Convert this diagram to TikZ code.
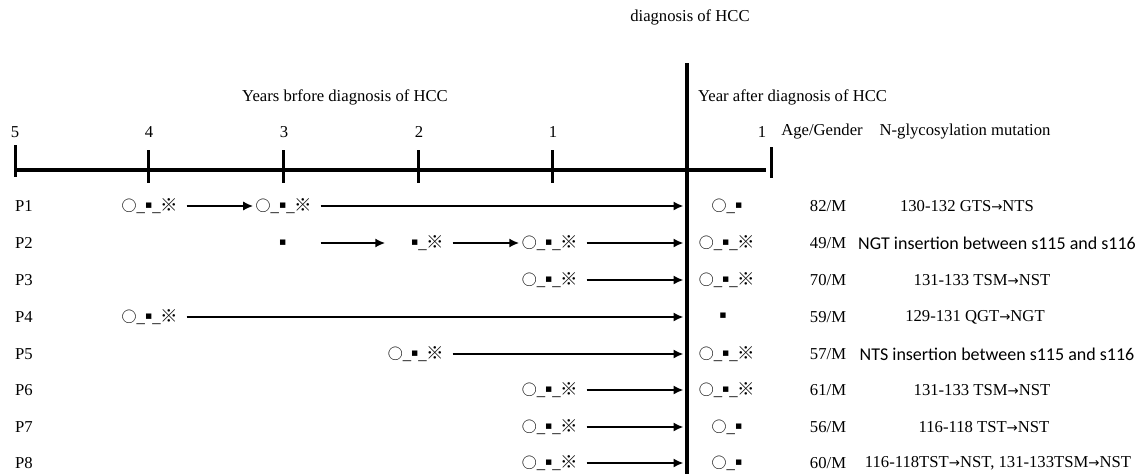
\documentclass[tikz,border=0pt]{standalone}
\usepackage{fontspec}
\setmainfont{Liberation Serif}
\newfontfamily\symfont{DejaVu Sans}
\newfontfamily\cjkfont{Noto Sans CJK SC}
\newfontfamily\calfont{Carlito}
\usetikzlibrary{arrows.meta}
\newcommand{\cc}{{\cjkfont\fontsize{9}{9}\selectfont ○}}
\newcommand{\dd}{\raisebox{1.8pt}{\symfont\fontsize{6.5}{6.5}\selectfont ▪}}
\newcommand{\rr}{{\cjkfont\fontsize{10.5}{10.5}\selectfont ※}}
\newcommand{\ra}{{\symfont\fontsize{8}{8}\selectfont →}}
\newcommand{\allmk}{\cc\_\dd\_\rr}

\begin{document}
\begin{tikzpicture}[x=0.6pt,y=-0.6pt,
    every node/.style={font=\fontsize{10}{12}\selectfont, inner sep=0pt, outer sep=0pt},
    axis/.style={line width=2.4pt},
    tick/.style={line width=1.8pt},
    arr/.style={line width=1.2pt, -{Latex[length=6pt,width=5.5pt]}, shorten <=5pt, shorten >=1.5pt}]
    \useasboundingbox (0,0) rectangle (1145,474);
    \node (dg) at (690,17) {diagnosis of HCC};
    \node (yb) at (345,97) {Years brfore diagnosis of HCC};
    \node[anchor=west] (ya) at (698,97) {Year after diagnosis of HCC};
    \node (n5) at (15,132) {5};
    \node (n4) at (149,132) {4};
    \node (n3) at (284,132) {3};
    \node (n2) at (419,132) {2};
    \node (n1) at (553,132) {1};
    \node (m1) at (762,132) {1};
    \node (ag) at (822,132) {Age/Gender};
    \node (nm) at (965,132) {N-glycosylation mutation};
    \coordinate (t0) at (15,170);
    \coordinate (t1) at (766,170);
    \draw[axis] (t0) -- (t1);
    \draw[tick] (15,145) -- (15,177);
    \draw[tick] (148,150) -- (148,183);
    \draw[tick] (283,150) -- (283,183);
    \draw[tick] (418,150) -- (418,183);
    \draw[tick] (552,150) -- (552,183);
    \draw[tick] (771,147) -- (771,178);
    \coordinate (dtop) at (687,63);
    \coordinate (dbot) at (687,474);
    \draw[axis] (dtop) -- (dbot);

    \node[anchor=west] (p1) at (15,206) {P1};
    \node (a1) at (150,206) {\allmk};
    \node (b1) at (284,206) {\allmk};
    \coordinate (e1) at (686,206);
    \node (r1) at (727,206) {\cc\_\dd};
    \node (g1) at (828,206) {82/M};
    \node (u1) at (967,206) {130-132 GTS\ra NTS};
    \draw[arr] (a1) -- (b1);
    \draw[arr] (b1) -- (e1);

    \node[anchor=west] (p2) at (15,243) {P2};
    \node (a2) at (284,243) {\phantom{\cc\_}\dd\phantom{\_\rr}};
    \node (b2) at (416,243) {\phantom{\cc\_}\dd\_\rr};
    \node (c2) at (550,243) {\allmk};
    \coordinate (e2) at (686,243);
    \node (r2) at (727,243) {\allmk};
    \node (g2) at (828,243) {49/M};
    \node (u2) at (997,243) {\calfont\fontsize{10.8}{12}\selectfont NGT insertion between s115 and s116};
    \draw[arr] (a2) -- (b2);
    \draw[arr] (b2) -- (c2);
    \draw[arr] (c2) -- (e2);

    \node[anchor=west] (p3) at (15,280) {P3};
    \node (a3) at (550,280) {\allmk};
    \coordinate (e3) at (686,280);
    \node (r3) at (727,280) {\allmk};
    \node (g3) at (828,280) {70/M};
    \node (u3) at (982,280) {131-133 TSM\ra NST};
    \draw[arr] (a3) -- (e3);

    \node[anchor=west] (p4) at (15,317) {P4};
    \node (a4) at (150,317) {\allmk};
    \coordinate (e4) at (686,317);
    \node (r4) at (723,317) {\dd};
    \node (g4) at (828,317) {59/M};
    \node (u4) at (975,317) {129-131 QGT\ra NGT};
    \draw[arr] (a4) -- (e4);

    \node[anchor=west] (p5) at (15,354) {P5};
    \node (a5) at (416,354) {\allmk};
    \coordinate (e5) at (686,354);
    \node (r5) at (727,354) {\allmk};
    \node (g5) at (828,354) {57/M};
    \node (u5) at (997,354) {\calfont\fontsize{10.8}{12}\selectfont NTS insertion between s115 and s116};
    \draw[arr] (a5) -- (e5);

    \node[anchor=west] (p6) at (15,390) {P6};
    \node (a6) at (550,390) {\allmk};
    \coordinate (e6) at (686,390);
    \node (r6) at (727,390) {\allmk};
    \node (g6) at (828,390) {61/M};
    \node (u6) at (982,390) {131-133 TSM\ra NST};
    \draw[arr] (a6) -- (e6);

    \node[anchor=west] (p7) at (15,427) {P7};
    \node (a7) at (550,427) {\allmk};
    \coordinate (e7) at (686,427);
    \node (r7) at (727,427) {\cc\_\dd};
    \node (g7) at (828,427) {56/M};
    \node (u7) at (984,427) {116-118 TST\ra NST};
    \draw[arr] (a7) -- (e7);

    \node[anchor=west] (p8) at (15,463) {P8};
    \node (a8) at (550,463) {\allmk};
    \coordinate (e8) at (686,463);
    \node (r8) at (727,463) {\cc\_\dd};
    \node (g8) at (828,463) {60/M};
    \node (u8) at (998,463) {116-118TST\ra NST, 131-133TSM\ra NST};
    \draw[arr] (a8) -- (e8);
\end{tikzpicture}
\end{document}
